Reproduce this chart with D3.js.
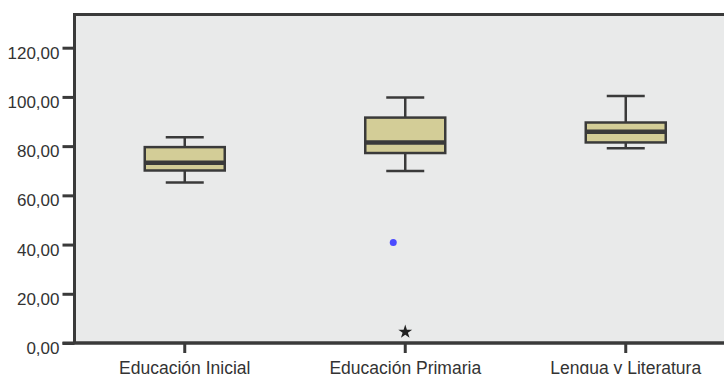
<!DOCTYPE html>
<html><head><meta charset="utf-8">
<script src="https://cdn.jsdelivr.net/npm/d3@7"></script>
<style>body{margin:0;background:#fff;} svg{display:block;}</style>
</head><body>
<svg id="c" width="724" height="374"></svg>
<script>
const categories = ["Educación Inicial", "Educación Primaria", "Lengua y Literatura"];
const whiskerLow  = [65.2, 69.9, 79.1];
const q1          = [70.1, 77.2, 81.5];
const medians     = [73.2, 81.5, 85.8];
const q3          = [79.6, 91.6, 89.6];
const whiskerHigh = [83.6, 99.8, 100.4];
const outliers    = [{cat: "Educación Primaria", value: 40.8, dx: -12}];
const extremes    = [{cat: "Educación Primaria", value: 4.5, dx: 0}];
const yTicks = [0, 20, 40, 60, 80, 100, 120];

(function () {
const svg = d3.select("#c");
const mLeft = 74.5, mTop = 14.5, mBottom = 343;
const x = d3.scaleBand().domain(categories).range([mLeft, mLeft + 3 * 220.5]);
const y = d3.scaleLinear().domain([0, 120]).range([mBottom, 47.7]);
const fmt = d => d.toFixed(2).replace(".", ",");
const dark = "#3a3a3a";

svg.append("rect").attr("x", mLeft).attr("y", mTop)
  .attr("width", 3 * 220.5 + 10).attr("height", mBottom - mTop)
  .attr("fill", "#e9eaea").attr("stroke", dark).attr("stroke-width", 3);

// y axis
const ya = svg.append("g").attr("transform", `translate(${mLeft},0)`)
  .call(d3.axisLeft(y).tickValues(yTicks).tickFormat(fmt).tickSize(12).tickPadding(3));
ya.select(".domain").remove();
ya.selectAll(".tick line").attr("stroke", dark).attr("stroke-width", 3);
ya.selectAll(".tick text").attr("fill", "#333").attr("font-family", "Liberation Sans, Arial, sans-serif")
  .attr("font-size", 17).attr("dy", "0.62em");

// x axis
const xa = svg.append("g").attr("transform", `translate(0,${mBottom})`)
  .call(d3.axisBottom(x).tickSize(10).tickPadding(9));
xa.select(".domain").attr("d", `M${mLeft - 12},0H724`).attr("stroke", dark).attr("stroke-width", 3);
xa.selectAll(".tick line").attr("stroke", dark).attr("stroke-width", 3);
xa.selectAll(".tick text").attr("fill", "#333").attr("font-family", "Liberation Sans, Arial, sans-serif")
  .attr("font-size", 17.5);

const boxW = 80, capW = 38;
const g = svg.append("g");
categories.forEach((c, i) => {
  const cx = x(c) + x.bandwidth() / 2;
  g.append("line").attr("x1", cx).attr("x2", cx).attr("y1", y(whiskerHigh[i])).attr("y2", y(q3[i]))
    .attr("stroke", dark).attr("stroke-width", 2.5);
  g.append("line").attr("x1", cx).attr("x2", cx).attr("y1", y(q1[i])).attr("y2", y(whiskerLow[i]))
    .attr("stroke", dark).attr("stroke-width", 2.5);
  [whiskerHigh[i], whiskerLow[i]].forEach(v => {
    g.append("line").attr("x1", cx - capW / 2).attr("x2", cx + capW / 2).attr("y1", y(v)).attr("y2", y(v))
      .attr("stroke", dark).attr("stroke-width", 2.5);
  });
  g.append("rect").attr("x", cx - boxW / 2).attr("y", y(q3[i]))
    .attr("width", boxW).attr("height", y(q1[i]) - y(q3[i]))
    .attr("fill", "#d3cd97").attr("stroke", dark).attr("stroke-width", 2.5);
  g.append("line").attr("x1", cx - boxW / 2).attr("x2", cx + boxW / 2)
    .attr("y1", y(medians[i])).attr("y2", y(medians[i]))
    .attr("stroke", dark).attr("stroke-width", 4.5);
});

outliers.forEach(o => {
  g.append("circle").attr("cx", x(o.cat) + x.bandwidth() / 2 + o.dx).attr("cy", y(o.value))
    .attr("r", 3.5).attr("fill", "#4b4bff");
});
extremes.forEach(o => {
  g.append("path").attr("d", d3.symbol(d3.symbolStar, 60)())
    .attr("transform", `translate(${x(o.cat) + x.bandwidth() / 2 + o.dx},${y(o.value)})`)
    .attr("fill", "#222");
});
})();
</script>
</body></html>
